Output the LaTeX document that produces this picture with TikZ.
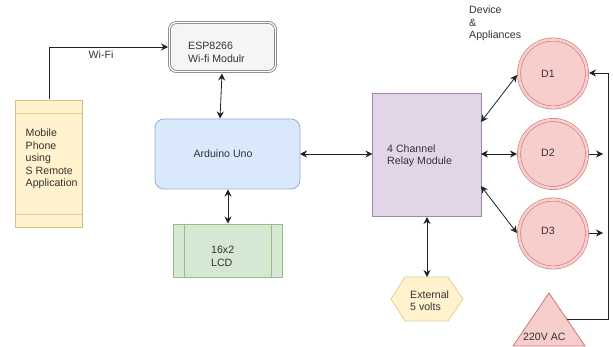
\documentclass[tikz,border=0pt]{standalone}
\usepackage{fontspec}
\setmainfont{Liberation Sans}
\usetikzlibrary{arrows.meta,calc}
\definecolor{ink}{HTML}{333333}
\definecolor{wire}{HTML}{222222}
\definecolor{pinkfill}{HTML}{F8CECC}
\definecolor{pinkline}{HTML}{C87878}
\definecolor{yelfill}{HTML}{FFF2CC}
\definecolor{yelline}{HTML}{D9C07A}
\definecolor{yelinner}{HTML}{E1CD8C}
\definecolor{hexline}{HTML}{E1D296}
\definecolor{bluefill}{HTML}{DAE8FC}
\definecolor{blueline}{HTML}{96AFCD}
\definecolor{greenfill}{HTML}{D5E8D4}
\definecolor{greenline}{HTML}{96BE82}
\definecolor{purpfill}{HTML}{E1D5E7}
\definecolor{purpline}{HTML}{A087AA}
\definecolor{greyfill}{HTML}{F5F5F5}
\definecolor{greyline}{HTML}{808080}
\tikzset{
  box/.style={draw=#1,line width=0.8pt,inner sep=0pt,outer sep=0pt},
  lbl/.style={text=ink,font=\fontsize{10.6}{12.4}\selectfont,align=left,anchor=west,inner sep=0pt},
  link/.style={draw=wire,line width=0.8pt,{Stealth[length=7pt,width=7pt]}-{Stealth[length=7pt,width=7pt]}},
  oneway/.style={draw=wire,line width=0.8pt,-{Stealth[length=7pt,width=7pt]}},
  dev/.style={circle,draw=pinkline,line width=0.6pt,fill=pinkfill,double=pinkfill,double distance=2.6pt,minimum size=68pt,inner sep=0pt,outer sep=2pt},
}
\begin{document}
\begin{tikzpicture}[x=1pt,y=-1pt]
\useasboundingbox[fill=white] (0,0) rectangle (613,347);
% phone
\node[box=yelline,fill=yelfill,minimum width=67pt,minimum height=127pt] (phone) at (48.5,163.5) {};
\draw[draw=yelinner,line width=0.8pt] (phone.north west|-0,113) -- (phone.north east|-0,113);
\draw[draw=yelinner,line width=0.8pt] (phone.north west|-0,214) -- (phone.north east|-0,214);
\node[lbl] (phonetxt) at (25.5,159) {Mobile\\Phone\\using\\S Remote\\Application};
% esp
\node[box=greyline,rounded corners=7pt,double=white,double distance=1.2pt,fill=greyfill,minimum width=106pt,minimum height=49pt,outer sep=1.4pt] (esp) at (222.5,47) {};
\node[lbl] (esptxt) at (188,52.5) {ESP8266\\Wi-fi Modulr};
% arduino
\node[box=blueline,rounded corners=9pt,fill=bluefill,minimum width=145pt,minimum height=70pt] (uno) at (227.5,154) {};
\node[lbl,anchor=center] (unotxt) at (223,153.5) {Arduino Uno};
% lcd
\node[box=greenline,fill=greenfill,minimum width=109pt,minimum height=53pt] (lcd) at (227.5,250.5) {};
\draw[draw=greenline,line width=0.8pt] (184,224) -- (184,277) (271,224) -- (271,277);
\node[lbl] (lcdtxt) at (211,256.5) {16x2\\LCD};
% relay
\node[box=purpline,fill=purpfill,minimum width=108.5pt,minimum height=123pt] (relay) at (426.7,154.5) {};
\node[lbl] (relaytxt) at (387,155.5) {4 Channel\\Relay Module};
% devices
\node[dev] (d1) at (553,73.5) {};
\node[dev] (d2) at (553,154) {};
\node[dev] (d3) at (553,233.5) {};
\node[lbl,anchor=center] (d1txt) at (548,73.5) {D1};
\node[lbl,anchor=center] (d2txt) at (548,152.5) {D2};
\node[lbl,anchor=center] (d3txt) at (548,231) {D3};
\node[lbl] (devtxt) at (469,23.5) {Device\\\&\\Appliances};
% hexagon
\coordinate (hexn) at (427,277);
\draw[draw=hexline,line width=0.8pt,fill=yelfill]
  (391,299) -- (405,277) -- (448,277) -- (463,299) -- (448,321) -- (405,321) -- cycle;
\node[lbl] (exttxt) at (410,300.5) {External\\5 volts};
% triangle
\coordinate (acport) at (567,319.5);
\draw[draw=pinkline,line width=0.8pt,fill=pinkfill]
  (549,293) -- (585,346) -- (513,346) -- cycle;
\node[lbl] (actxt) at (523,336.5) {220V AC};
% connectors
\node[lbl] (wifi) at (88.5,55) {Wi-Fi};
\coordinate (phoneport) at (49,99.5);
\draw[oneway] (phoneport) -- (49,47) -- (esp.west|-0,47);
\draw[link] (222,73.5) -- (220,118.5);
\draw[link] (uno.east|-0,154) -- (relay.west|-0,154);
\draw[link] (228,189.5) -- (228,223.5);
\draw[link] (relay.east|-0,122) -- (d1.west|-0,75);
\draw[link] (relay.east|-0,154) -- (d2.west|-0,154);
\draw[link] (relay.east|-0,186) -- (d3.west|-0,233);
\draw[link] (427,217) -- (hexn);
\coordinate (d2out) at (603,154);
\coordinate (d3out) at (603,233);
\draw[oneway] (d2.east|-0,154) -- (d2out);
\draw[oneway] (d3.east|-0,233) -- (d3out);
\draw[oneway] (acport) -- (608,319.5) -- (608,73) -- (d1.east|-0,73);
\end{tikzpicture}
\end{document}
